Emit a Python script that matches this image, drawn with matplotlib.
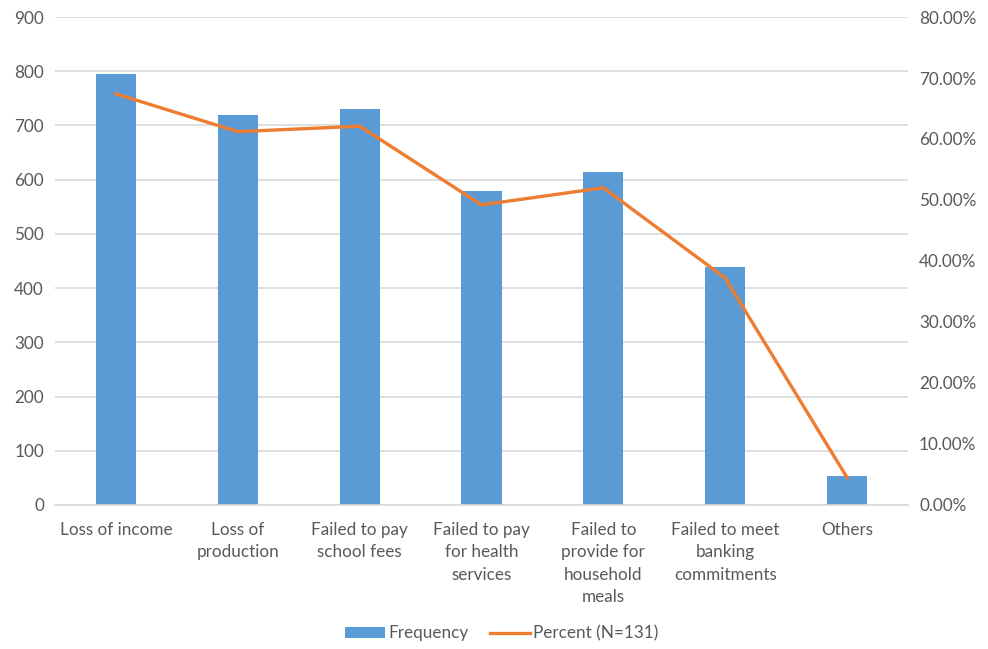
import matplotlib.pyplot as plt
from matplotlib.ticker import PercentFormatter

plt.rcParams['font.family'] = ['Lato', 'DejaVu Sans']

categories = ['Loss of income', 'Loss of\nproduction', 'Failed to pay\nschool fees',
              'Failed to pay\nfor health\nservices', 'Failed to\nprovide for\nhousehold\nmeals',
              'Failed to meet\nbanking\ncommitments', 'Others']
frequency = [794, 720, 730, 580, 614, 439, 54]
percent = [67.4, 61.2, 62.1, 49.2, 52.0, 37.2, 4.5]

text_col = '#595959'
grid_col = '#d9d9d9'
fs = 12.3

fig = plt.figure(figsize=(9.88, 6.49), dpi=100)
ax = fig.add_axes([0.0557, 0.2219, 0.8633, 0.7519])
ax2 = ax.twinx()

x = range(len(categories))
bars = ax.bar(x, frequency, width=0.33, color='#5b9bd5', label='Frequency', zorder=2)
line, = ax2.plot(x, percent, color='#ed7d31', lw=2.4, label='Percent (N=131)',
                 solid_joinstyle='round', zorder=3)

ax.set_xlim(-0.5, len(categories) - 0.5)
ax.set_ylim(0, 900)
ax.set_yticks(range(0, 901, 100))
ax2.set_ylim(0, 80)
ax2.set_yticks(range(0, 81, 10))
ax2.yaxis.set_major_formatter(PercentFormatter(decimals=2))

ax.yaxis.grid(True, color=grid_col, lw=1.2, zorder=0)
ax.set_axisbelow(True)

for a in (ax, ax2):
    for s in a.spines.values():
        s.set_visible(False)
    a.tick_params(length=0, colors=text_col, labelsize=fs)
ax.spines['bottom'].set_visible(True)
ax.spines['bottom'].set_color(grid_col)
ax.spines['bottom'].set_linewidth(1.2)

ax.set_xticks(list(x))
ax.set_xticklabels(categories, linespacing=1.5, va='top')
ax.tick_params(axis='x', pad=12)
ax.tick_params(axis='y', pad=8)
ax2.tick_params(axis='y', pad=8)

fig.legend([bars, line], ['Frequency', 'Percent (N=131)'], loc='center',
           bbox_to_anchor=(0.508, 0.024), ncol=2, frameon=False, fontsize=fs,
           labelcolor=text_col, handlelength=2.3, handletextpad=0.2, columnspacing=1.3)

fig.savefig('out.png', dpi=100)
